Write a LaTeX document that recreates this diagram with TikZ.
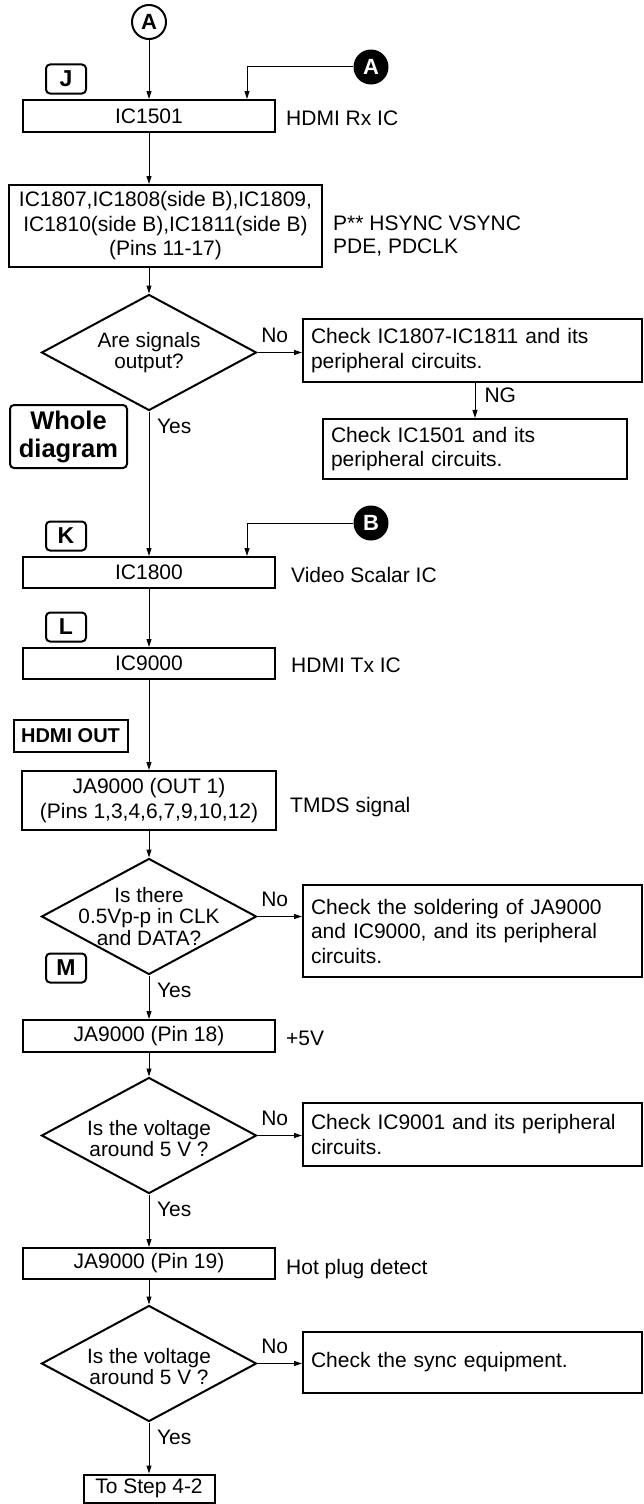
\documentclass[tikz,border=0pt]{standalone}
\usepackage{fontspec}
\setmainfont{Liberation Sans}
\usetikzlibrary{arrows.meta,shapes.geometric}
\newcommand{\normtext}{\fontsize{21}{24.5}\selectfont}
\newcommand{\difftext}{\fontsize{20.8}{21.5}\selectfont}
\newcommand{\tagtext}{\fontsize{23}{24}\selectfont\bfseries}
\newcommand{\bigtag}{\fontsize{25.5}{28}\selectfont\bfseries}
\newcommand{\marktext}{\fontsize{22}{22}\selectfont\bfseries}
\tikzset{
      stepbox/.style={
        draw=black,
        line width=2pt,
        inner sep=0pt,
        align=center,
        font=\normtext
      },
      checkbox/.style={
        draw=black,
        line width=2pt,
        minimum width=339pt,
        text width=323pt,
        inner sep=8pt,
        align=left,
        font=\normtext
      },
      decision/.style={
        diamond,
        draw=black,
        line width=2pt,
        minimum width=215pt,
        minimum height=116pt,
        inner sep=0pt
      },
      dtext/.style={align=center, font=\difftext, inner sep=0pt},
      tagbox/.style={
        draw=black,
        rounded corners=4pt,
        line width=2pt,
        minimum width=40pt,
        minimum height=29pt,
        inner sep=0pt,
        font=\tagtext
      },
      openmark/.style={circle, draw=black, line width=2pt, minimum size=34pt, inner sep=0pt, font=\marktext},
      fillmark/.style={circle, fill=black, text=white, minimum size=35pt, inner sep=0pt, font=\marktext},
      note/.style={inner sep=0pt, font=\normtext},
      lbl/.style={inner sep=0pt, font=\normtext},
      flow/.style={-{Triangle[length=8pt,width=5pt]}, line width=1pt},
      yes/.style={lbl, anchor=north west, xshift=7.5pt, yshift=-7.5pt}
    }
\begin{document}
\begin{tikzpicture}[x=1pt,y=-1pt]
    \fill[white] (0,0) rectangle (643,1504);
    \useasboundingbox (0,0) rectangle (643,1504);

    % receiver part
    \node[openmark] (ca) at (149,22) {A};
    \node[fillmark] (fa) at (371,67) {A};
    \node[tagbox] (tj) at (66,79) {J};
    \node[stepbox, minimum width=252pt, minimum height=32pt] (ic1501) at (149,116) {IC1501};
    \node[note, anchor=base west] (rx) at (286,125) {HDMI Rx IC};
    \node[stepbox, minimum width=313pt, minimum height=82pt] (sig) at (165.5,226) {IC1807,IC1808(side B),IC1809,\\IC1810(side B),IC1811(side B)\\(Pins 11-17)};
    \node[note, anchor=west, align=left, font=\fontsize{21}{23}\selectfont] (sync) at (333,236) {P** HSYNC VSYNC\\PDE, PDCLK};
    \node[decision, label={[dtext]center:Are signals\\output?}] (d1) at (149,352.5) {};
    \node[checkbox, minimum height=63pt] (chk1) at (472.5,350.5) {Check IC1807-IC1811 and its\\peripheral circuits.};
    \node[checkbox, minimum width=304pt, text width=288pt, minimum height=58pt] (chk2) at (475,449) {Check IC1501 and its\\peripheral circuits.};
    \node[tagbox, minimum width=117pt, minimum height=63pt, align=center, font=\bigtag] (whole) at (68.5,436.5) {Whole\\diagram};

    % scaler and transmitter
    \node[fillmark] (fb) at (371,523) {B};
    \node[tagbox] (tk) at (66,536) {K};
    \node[stepbox, minimum width=252pt, minimum height=31pt] (ic1800) at (149,572.5) {IC1800};
    \node[note, anchor=base west] (scl) at (291,582) {Video Scalar IC};
    \node[tagbox] (tl) at (66,627) {L};
    \node[stepbox, minimum width=252pt, minimum height=31pt] (ic9000) at (149,663.5) {IC9000};
    \node[note, anchor=base west] (tx) at (291,672) {HDMI Tx IC};
    \node[stepbox, minimum width=114pt, minimum height=32pt, font=\fontsize{20}{23}\selectfont\bfseries] (hout) at (70.5,736) {HDMI OUT};

    % output connector
    \node[stepbox, minimum width=254pt, minimum height=59pt] (ja) at (149,800.5) {JA9000 (OUT 1)\\(Pins 1,3,4,6,7,9,10,12)};
    \node[note, anchor=base west] (tmds) at (290,812) {TMDS signal};
    \node[decision, label={[dtext]center:Is there\\0.5Vp-p in CLK\\and DATA?}] (d2) at (149,916.5) {};
    \node[checkbox, minimum height=92pt] (chk3) at (472.5,931) {Check the soldering of JA9000\\and IC9000, and its peripheral\\circuits.};
    \node[tagbox] (tm) at (66,968) {M};
    \node[stepbox, minimum width=252pt, minimum height=32pt] (pin18) at (149,1036) {JA9000 (Pin 18)};
    \node[note, anchor=base west] (pwr) at (286,1045) {+5V};
    \node[decision, label={[dtext, yshift=-3pt]center:Is the voltage\\around 5 V ?}] (d3) at (149,1135.5) {};
    \node[checkbox, minimum height=63pt] (chk4) at (472.5,1134.5) {Check IC9001 and its peripheral\\circuits.};
    \node[stepbox, minimum width=252pt, minimum height=31pt] (pin19) at (149,1263.5) {JA9000 (Pin 19)};
    \node[note, anchor=base west] (hpd) at (286,1274) {Hot plug detect};
    \node[decision, label={[dtext, yshift=-3pt]center:Is the voltage\\around 5 V ?}] (d4) at (149,1363.5) {};
    \node[checkbox, minimum height=61pt] (chk5) at (472.5,1362.5) {Check the sync equipment.};
    \node[stepbox, minimum width=131pt, minimum height=28pt] (next) at (149,1488.5) {To Step 4-2};

    \draw[flow] (ca.south) -- (ic1501.north);
    \draw[flow] (fa.west) -| ([xshift=98pt]ic1501.north);
    \draw[flow] (ic1501.south) -- (ic1501.south |- sig.north);
    \draw[flow] (sig.south -| d1.north) -- (d1.north);
    \draw[flow] (d1.east) -- node[lbl, above=9pt, xshift=-5pt] {No} (d1.east -| chk1.west);
    \draw[flow] (chk1.south -| chk2.north) -- node[lbl, right=9pt, yshift=5pt] {NG} (chk2.north);
    \draw[flow] (d1.south) node[yes] {Yes} -- (ic1800.north);
    \draw[flow] (fb.west) -| ([xshift=98pt]ic1800.north);
    \draw[flow] (ic1800.south) -- (ic9000.north);
    \draw[flow] (ic9000.south) -- (ja.north);
    \draw[flow] (ja.south) -- (d2.north);
    \draw[flow] (d2.east) -- node[lbl, above=9pt, xshift=-5pt] {No} (d2.east -| chk3.west);
    \draw[flow] (d2.south) node[yes] {Yes} -- (pin18.north);
    \draw[flow] (pin18.south) -- (d3.north);
    \draw[flow] (d3.east) -- node[lbl, above=9pt, xshift=-5pt] {No} (d3.east -| chk4.west);
    \draw[flow] (d3.south) node[yes] {Yes} -- (pin19.north);
    \draw[flow] (pin19.south) -- (d4.north);
    \draw[flow] (d4.east) -- node[lbl, above=9pt, xshift=-5pt] {No} (d4.east -| chk5.west);
    \draw[flow] (d4.south) node[yes] {Yes} -- (next.north);
    \end{tikzpicture}
\end{document}
